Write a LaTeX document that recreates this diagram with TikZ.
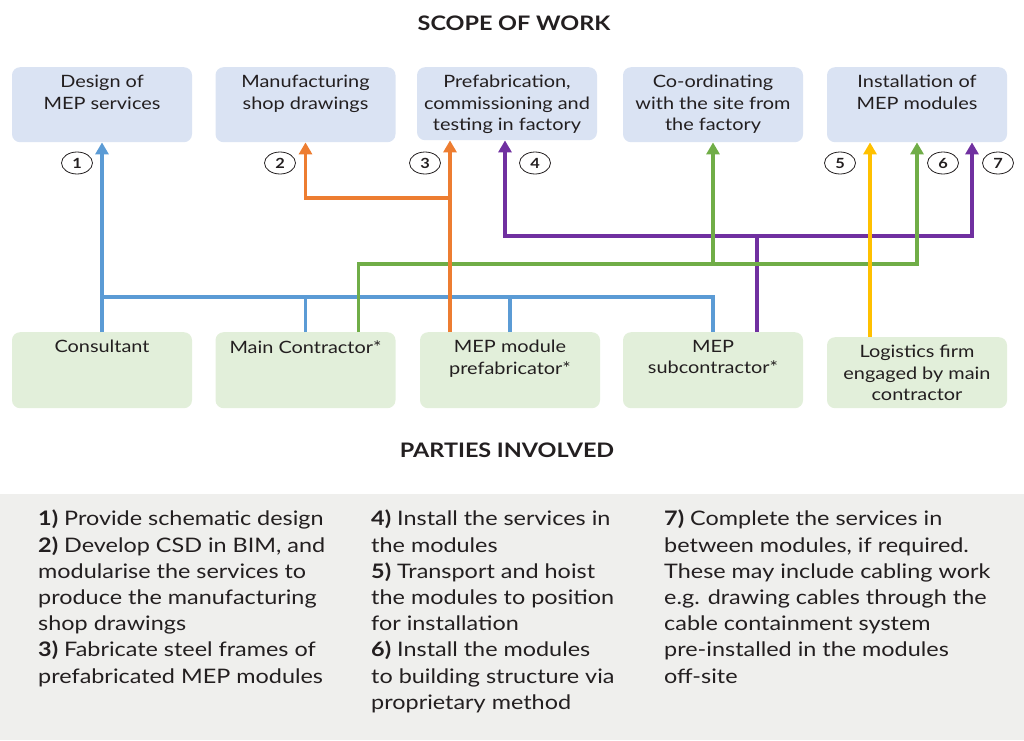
\documentclass[tikz,border=0pt]{standalone}
\usepackage{fontspec}
\setmainfont{Lato}[FakeStretch=1.17]
\usepackage{xcolor}
\usepackage{tikz}
\usetikzlibrary{arrows.meta, shapes.geometric}

\definecolor{taskfill}{HTML}{DAE3F3}
\definecolor{partyfill}{HTML}{E2EFDA}
\definecolor{panelfill}{HTML}{EFEFED}
\definecolor{ink}{HTML}{231F20}
\definecolor{bluewire}{HTML}{5B9BD5}
\definecolor{orangewire}{HTML}{ED7D31}
\definecolor{purplewire}{HTML}{7030A0}
\definecolor{greenwire}{HTML}{70AD47}
\definecolor{yellowwire}{HTML}{FFC000}

\newcommand{\celltext}[2]{\parbox[t][#1][t]{178pt}{\centering #2}}

\tikzset{
  >={Triangle[width=13pt,length=12pt]},
  task/.style={fill=taskfill, rounded corners=8pt, anchor=north, inner xsep=1pt, inner ysep=8pt,
    text=ink, font=\fontsize{17}{21.5}\selectfont},
  party/.style={task, fill=partyfill},
  num/.style={ellipse, draw=ink, line width=0.8pt, fill=white, minimum width=31pt, minimum height=22pt,
    inner sep=0pt, text=ink, font=\bfseries\fontsize{14}{14}\selectfont},
  wire/.style={line width=3.5pt},
  heading/.style={text=ink, font=\bfseries\fontsize{20}{24}\selectfont},
  note/.style={anchor=north west, align=left, inner sep=0pt, text=ink, font=\fontsize{20}{26.2}\selectfont}
}

\begin{document}
\begin{tikzpicture}[x=1pt,y=-1pt]
\useasboundingbox (0,0) rectangle (1024,740);
\fill[panelfill] (0,494) rectangle (1024,740);

\node[heading] (scope) at (514,23) {SCOPE OF WORK};
\node[heading] (parties) at (507,450) {PARTIES INVOLVED};

\node[task] (design) at (102,67) {\celltext{59pt}{Design of\\MEP services}};
\node[task] (shopdwg) at (305.5,67) {\celltext{59pt}{Manufacturing\\shop drawings}};
\node[task] (prefab) at (507,67) {\celltext{57pt}{Prefabrication,\\commissioning and\\testing in factory}};
\node[task] (coord) at (713,67) {\celltext{59pt}{Co-ordinating\\with the site from\\the factory}};
\node[task] (install) at (917,67) {\celltext{59pt}{Installation of\\MEP modules}};

\node[party] (consultant) at (102,332) {\celltext{60pt}{Consultant}};
\node[party] (maincon) at (305.5,332) {\celltext{60pt}{Main Contractor*}};
\node[party] (mepfab) at (510,332) {\celltext{60pt}{MEP module\\prefabricator*}};
\node[party] (mepsub) at (713,332) {\celltext{60pt}{MEP\\subcontractor*}};
\node[party] (logistics) at (917,337) {\celltext{55pt}{Logistics firm\\engaged by main\\contractor}};

\coordinate (orangebus) at (0,198);
\coordinate (purplebus) at (0,236);
\coordinate (greenbus) at (0,264);
\coordinate (bluebus) at (0,297);

\draw[wire,bluewire,->] (consultant.north) -- (design.south);
\draw[wire,bluewire] (consultant.north |- bluebus) -| (mepsub.north);
\draw[wire,bluewire] (maincon.north) -- (maincon.north |- bluebus);
\draw[wire,bluewire] (mepfab.north) -- (mepfab.north |- bluebus);

\draw[wire,purplewire,<->] ([xshift=-2pt]prefab.south) |- ([xshift=55pt]install.south |- purplebus) -- ([xshift=55pt]install.south);
\draw[wire,purplewire] ([xshift=44pt]mepsub.north) -- ([xshift=44pt]mepsub.north |- purplebus);

\draw[wire,greenwire,->] ([xshift=53pt]maincon.north) |- (install.south |- greenbus) -- (install.south);
\draw[wire,greenwire,->] (coord.south |- greenbus) -- (coord.south);

\draw[wire,orangewire,->] ([xshift=-60pt]mepfab.north) -- ([xshift=-60pt]mepfab.north |- prefab.south);
\draw[wire,orangewire,->] ([xshift=-60pt]mepfab.north |- orangebus) -| (shopdwg.south);

\draw[wire,yellowwire,->] ([xshift=-47pt]logistics.north) -- ([xshift=-47pt]logistics.north |- install.south);

\foreach \n/\x in {1/77, 2/280, 3/425, 4/535, 5/840, 6/943, 7/998}
  \node[num] (n\n) at (\x,163) {\n};

\node[note] (tasks13) at (38,510) {\textbf{1)} Provide schematic design\\
\textbf{2)} Develop CSD in BIM, and\\
modularise the services to\\
produce the manufacturing\\
shop drawings\\
\textbf{3)} Fabricate steel frames of\\
prefabricated MEP modules};
\node[note] (tasks46) at (371,510) {\textbf{4)} Install the services in\\
the modules\\
\textbf{5)} Transport and hoist\\
the modules to position\\
for installation\\
\textbf{6)} Install the modules\\
to building structure via\\
proprietary method};
\node[note] (tasks7) at (664,510) {\textbf{7)} Complete the services in\\
between modules, if required.\\
These may include cabling work\\
e.g. drawing cables through the\\
cable containment system\\
pre-installed in the modules\\
off-site};
\end{tikzpicture}
\end{document}
